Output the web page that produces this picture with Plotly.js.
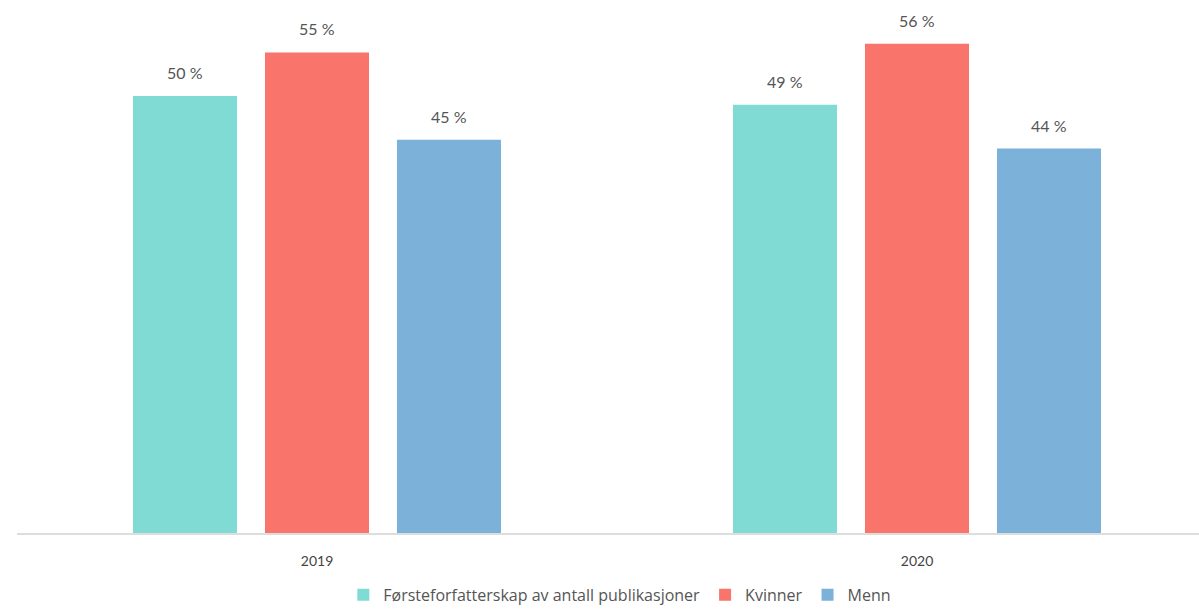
<!DOCTYPE html>
<html>
<head>
<meta charset="utf-8">
<script src="https://cdn.plot.ly/plotly-3.0.1.min.js"></script>
<style>html,body{margin:0;padding:0;background:#fff;}#chart{width:1199px;height:612px;}</style>
</head>
<body>
<div id="chart"></div>
<script>
const categories = ["2019", "2020"];
const seriesNames = ["Førsteforfatterskap av antall publikasjoner", "Kvinner", "Menn"];
const firstAuthor = [50, 49];
const women = [55, 56];
const men = [45, 44];
const seriesValues = [firstAuthor, women, men];
const colors = ["#7fdbd3", "#f9746a", "#7cb1da"];

const bargap = 0.34;
const traces = seriesValues.map((vals, k) => ({
  type: "bar",
  name: seriesNames[k],
  x: categories,
  y: vals,
  marker: {color: colors[k]},
  hoverinfo: "skip"
}));

const slot = (1 - bargap) / seriesValues.length;
const annotations = [];
seriesValues.forEach((vals, k) => {
  vals.forEach((v, i) => {
    annotations.push({
      x: i + (k - (seriesValues.length - 1) / 2) * slot,
      y: v,
      xref: "x", yref: "y",
      text: v + " %",
      showarrow: false,
      yanchor: "bottom",
      yshift: 12,
      font: {family: "Lato, 'Open Sans', sans-serif", size: 16, color: "#555"}
    });
  });
});

const layout = {
  width: 1199, height: 612,
  margin: {l: 17, r: 0, t: 0, b: 79, autoexpand: false},
  paper_bgcolor: "#fff", plot_bgcolor: "#fff",
  barmode: "group",
  bargap: bargap,
  bargroupgap: 0.212,
  xaxis: {
    type: "category",
    range: [-0.5, 1.47],
    showline: true, linecolor: "#dddddd", linewidth: 2,
    ticks: "", showgrid: false, zeroline: false,
    tickfont: {family: "Lato, 'Open Sans', sans-serif", size: 14, color: "#444"},
    ticklabelstandoff: 14
  },
  yaxis: {
    range: [0, 61],
    visible: false, showgrid: false, zeroline: false
  },
  showlegend: true,
  legend: {
    orientation: "h",
    x: 0.51, xanchor: "center",
    y: -0.148, yanchor: "bottom",
    font: {family: "'Open Sans', Lato, sans-serif", size: 16, color: "#555"},
    itemwidth: 30,
    tracegroupgap: 0
  },
  annotations: annotations
};

Plotly.newPlot("chart", traces, layout, {displayModeBar: false, staticPlot: true});
</script>
</body>
</html>
